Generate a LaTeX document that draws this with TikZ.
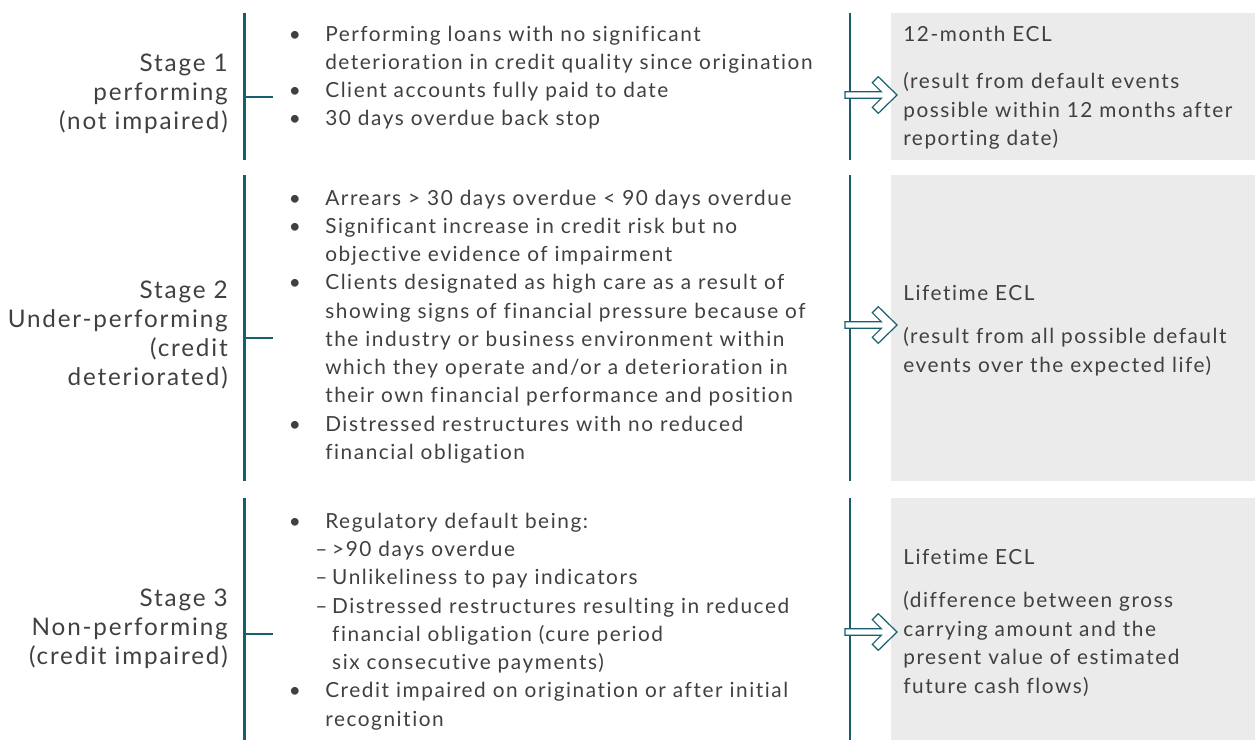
\documentclass[tikz,border=0pt]{standalone}
\usepackage{fontspec}
\setmainfont{Lato}[LetterSpace=7.5, Ligatures=NoCommon]
\usepackage{tikz}

\definecolor{stageteal}{HTML}{175F6F}
\definecolor{ink}{HTML}{404040}
\definecolor{eclgray}{HTML}{EBEBEB}

% bullet and indents for the criteria lists
\newcommand{\bul}{\makebox[27.4pt][l]{\textbullet}}
\newcommand{\cont}{\hspace*{27.4pt}}
\newcommand{\subdash}{\hspace*{19.9pt}\makebox[12.7pt][l]{–}}
\newcommand{\subcont}{\hspace*{32.6pt}}

\begin{document}
\begin{tikzpicture}[x=0.75pt,y=-0.75pt,
	bar/.style={stageteal, line width=1.6pt},
	stagelabel/.style={anchor=base east, inner sep=0pt, text width=170pt, align=right, text=ink, font=\fontsize{18.2}{21.75}\selectfont},
	criteria/.style={anchor=base west, inner sep=0pt, text width=420pt, align=left, text=ink, font=\fontsize{15.6}{21.2}\selectfont},
	ecl/.style={anchor=base west, inner sep=0pt, text width=260pt, align=left, text=ink, font=\fontsize{15.6}{21.4}\selectfont},
	hollowarrow/.style={draw=stageteal, fill=white, line width=0.9pt, line join=miter}]
			\useasboundingbox (0,0) rectangle (1255,740);
			% Boxes and bars
			\foreach \ya/\yb/\ym in {12.7/160/97, 175/481/338, 498/740/634} {
				\fill[eclgray] (891,\ya) rectangle (1255,\yb);
				\draw[bar] (244.5,\ya) -- (244.5,\yb);
				\draw[bar] (244.5,\ym) -- (273,\ym);
				\draw[bar] (850,\ya) -- (850,\yb);
			}
			% Arrows
			\foreach \y in {95,325,632} {
				\draw[hollowarrow] (845,{\y-3.3}) -- (881.3,{\y-3.3}) -- (872.3,{\y-12.3}) -- (878.3,{\y-18.3}) -- (897,\y)
					-- (878.3,{\y+18.3}) -- (872.3,{\y+12.3}) -- (881.3,{\y+3.3}) -- (845,{\y+3.3}) -- cycle;
			}
			% Stages
			\node[stagelabel] (stage1) at (228,71.5) {Stage 1\\performing\\(not impaired)};
			\node[stagelabel] (stage2) at (228,298.3) {Stage 2\\Under-performing\\(credit\\deteriorated)};
			\node[stagelabel] (stage3) at (228,606.7) {Stage 3\\Non-performing\\(credit impaired)};
			% Criteria
			\node[criteria] (crit1) at (288.5,41) {\bul Performing loans with no significant\\
				\cont deterioration in credit quality since origination\\
				\bul Client accounts fully paid to date\\
				\bul 30 days overdue back stop};
			\node[criteria] (crit2) at (288.5,205) {\bul Arrears > 30 days overdue < 90 days overdue\\
				\bul Significant increase in credit risk but no\\
				\cont objective evidence of impairment\\
				\bul Clients designated as high care as a result of\\
				\cont showing signs of financial pressure because of\\
				\cont the industry or business environment within\\
				\cont which they operate and/or a deterioration in\\
				\cont their own financial performance and position\\
				\bul Distressed restructures with no reduced\\
				\cont financial obligation};
			\node[criteria] (crit3) at (288.5,528.3) {\bul Regulatory default being:\\
				\subdash >90 days overdue\\
				\subdash Unlikeliness to pay indicators\\
				\subdash Distressed restructures resulting in reduced\\
				\subcont financial obligation (cure period\\
				\subcont six consecutive payments)\\
				\bul Credit impaired on origination or after initial\\
				\cont recognition};
			% ECL
			\node[ecl] (ecl1) at (903,41.7) {12-month ECL\\[14pt]
				(result from default events\\possible within 12 months after\\reporting date)};
			\node[ecl] (ecl2) at (903,300) {Lifetime ECL\\[11.5pt]
				(result from all possible default\\events over the expected life)};
			\node[ecl] (ecl3) at (903,564) {Lifetime ECL\\[11.5pt]
				(difference between gross\\carrying amount and the\\present value of estimated\\future cash flows)};
		\end{tikzpicture}
\end{document}
